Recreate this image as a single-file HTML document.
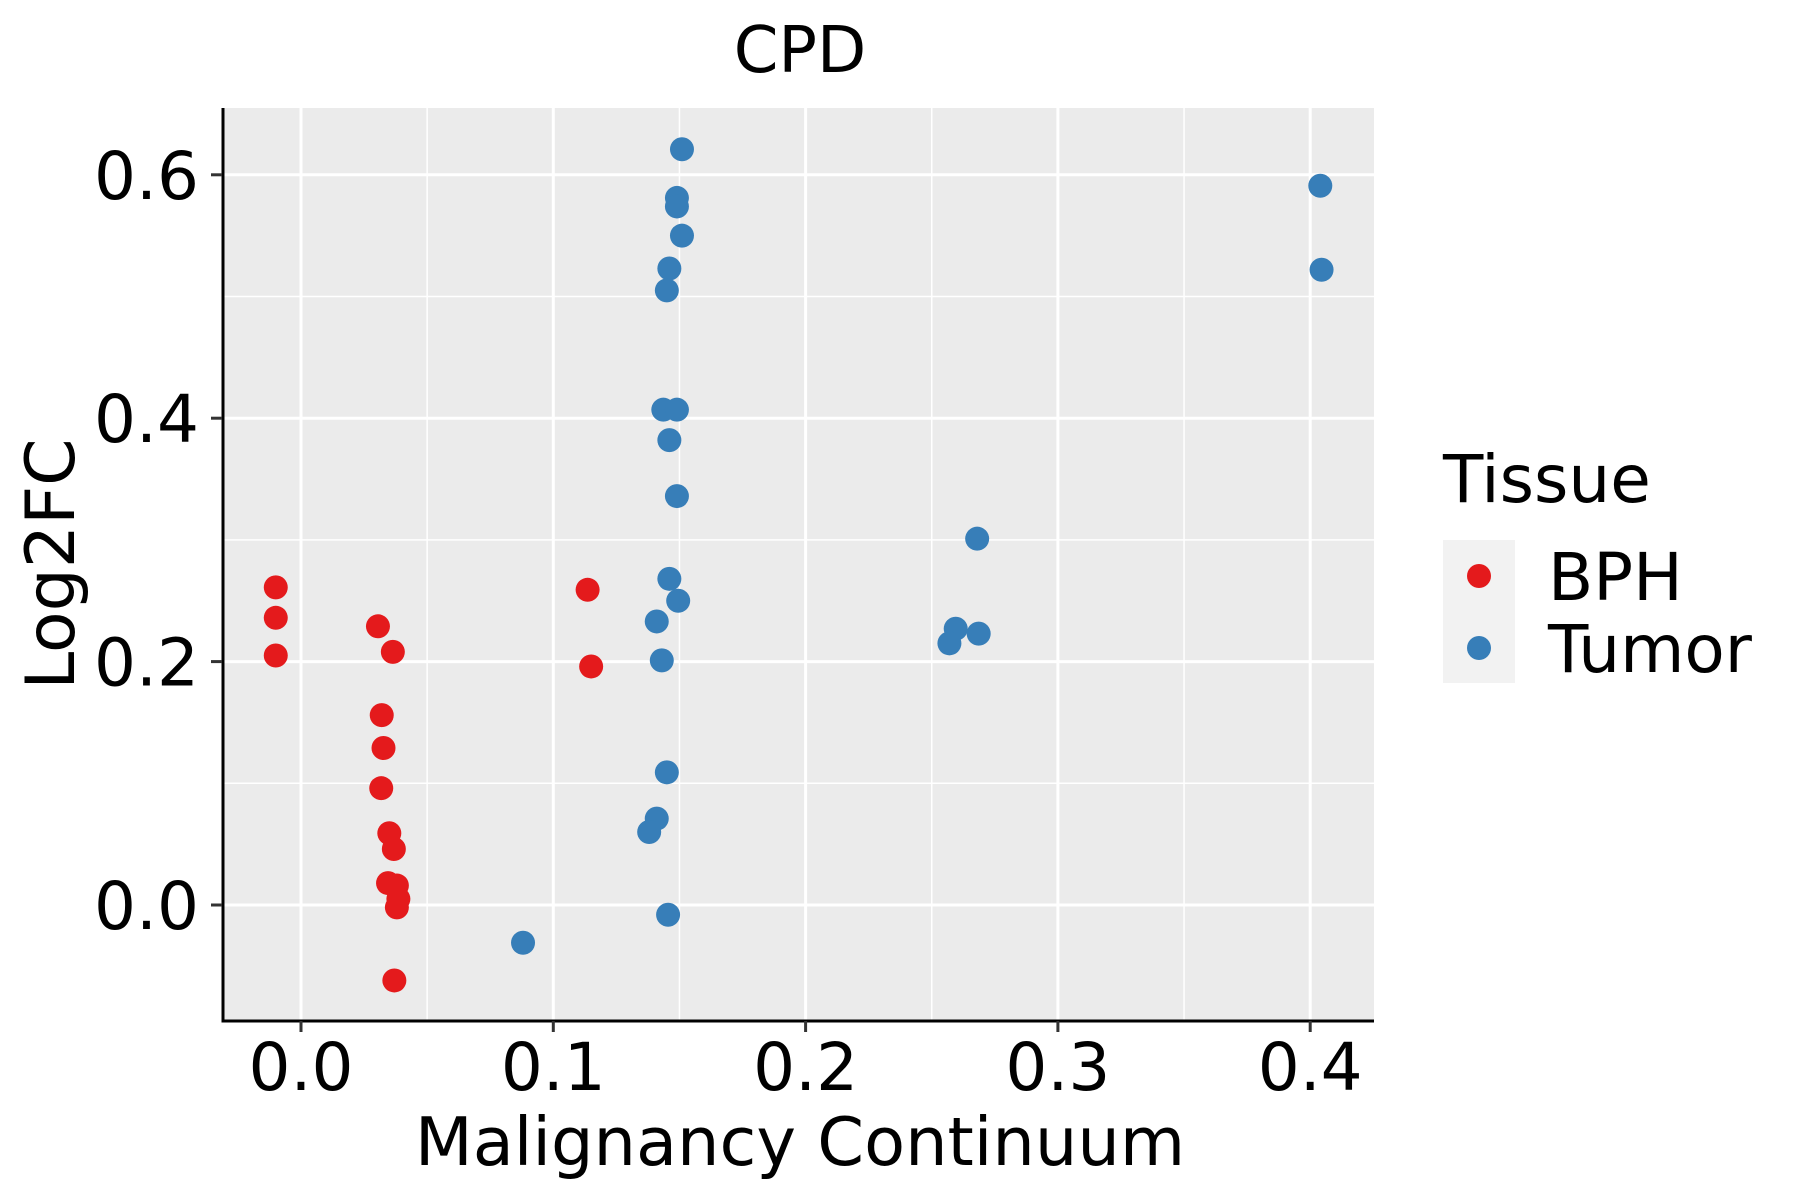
<!DOCTYPE html>
<html><head><meta charset="utf-8"><style>
html,body{margin:0;padding:0;background:#fff;}
svg{display:block;font-family:"DejaVu Sans","Liberation Sans",sans-serif;}
</style></head><body>
<svg id="chart" width="1800" height="1200" viewBox="0 0 1800 1200">
<rect x="224" y="108" width="1150" height="913" fill="#EBEBEB"/>
<g id="grid"></g>
<g id="points"></g>
<g id="axes"></g>
<text x="800" y="72" font-size="64" text-anchor="middle">CPD</text>
<text x="800" y="1165" font-size="67" text-anchor="middle">Malignancy Continuum</text>
<text transform="translate(74,564) rotate(-90)" font-size="68" text-anchor="middle">Log2FC</text>
<g>
<text x="1443" y="502" font-size="66">Tissue</text>
<rect x="1443" y="540" width="72" height="143" fill="#F2F2F2"/>
<circle cx="1479" cy="576" r="12" fill="#E41A1C"/>
<circle cx="1479" cy="648" r="12" fill="#377EB8"/>
<text x="1548" y="600" font-size="66">BPH</text>
<text x="1548" y="672" font-size="66">Tumor</text>
</g>
</svg>
<script>
const xTicks = [0.0, 0.1, 0.2, 0.3, 0.4];
const xTickLabels = ["0.0", "0.1", "0.2", "0.3", "0.4"];
const yTicks = [0.0, 0.2, 0.4, 0.6];
const yTickLabels = ["0.0", "0.2", "0.4", "0.6"];
const xMinor = [0.05, 0.15, 0.25, 0.35];
const yMinor = [-0.1, 0.1, 0.3, 0.5];
const bphX = [-0.010,-0.010,-0.010,0.0305,0.0364,0.032,0.0327,0.0318,0.035,0.0368,0.0345,0.038,0.0386,0.038,0.037,0.1136,0.115];
const bphY = [0.261,0.236,0.205,0.229,0.208,0.156,0.129,0.096,0.059,0.046,0.018,0.016,0.005,-0.002,-0.062,0.259,0.196];
const tumorX = [0.151,0.149,0.149,0.151,0.146,0.145,0.1436,0.149,0.146,0.149,0.146,0.1495,0.141,0.143,0.145,0.141,0.138,0.1455,0.088,0.404,0.4045,0.268,0.2595,0.257,0.2686];
const tumorY = [0.621,0.581,0.574,0.550,0.523,0.505,0.407,0.407,0.382,0.336,0.268,0.250,0.233,0.201,0.109,0.071,0.060,-0.008,-0.031,0.591,0.522,0.301,0.227,0.215,0.223];

const NS = "http://www.w3.org/2000/svg";
const PL = 224, PR = 1374, PT = 108, PB = 1021;
function sx(v){ return 301 + v * 2523; }
function sy(v){ return 905 - v * 1217; }
function mk(tag, attrs, parent){
  const e = document.createElementNS(NS, tag);
  for (const k in attrs) e.setAttribute(k, attrs[k]);
  parent.appendChild(e);
  return e;
}
const grid = document.getElementById('grid');
xMinor.forEach(v => {
  const l = mk('line', {x1:sx(v), x2:sx(v), y1:PT, y2:PB, stroke:'#fff', 'stroke-width':1.5}, grid);
  
  
});
yMinor.forEach(v => {
  if (sy(v) < PT || sy(v) > PB) return;
  const l = mk('line', {x1:PL, x2:PR, y1:sy(v), y2:sy(v), stroke:'#fff', 'stroke-width':1.5}, grid);
  
  
});
xTicks.forEach(v => {
  const l = mk('line', {x1:sx(v), x2:sx(v), y1:PT, y2:PB, stroke:'#fff', 'stroke-width':3}, grid);
  
  
});
yTicks.forEach(v => {
  const l = mk('line', {x1:PL, x2:PR, y1:sy(v), y2:sy(v), stroke:'#fff', 'stroke-width':3}, grid);
  
  
});
const pts = document.getElementById('points');
bphX.forEach((v, i) => {
  const c = mk('circle', {cx:sx(v), cy:sy(bphY[i]), r:12, fill:'#E41A1C'}, pts);
  
  
});
tumorX.forEach((v, i) => {
  const c = mk('circle', {cx:sx(v), cy:sy(tumorY[i]), r:12, fill:'#377EB8'}, pts);
  
  
});
const axes = document.getElementById('axes');
const yl = mk('line', {x1:PL-1, x2:PL-1, y1:PT, y2:PB+1.5, stroke:'#000', 'stroke-width':3}, axes);


const xl = mk('line', {x1:PL-2.5, x2:PR, y1:PB, y2:PB, stroke:'#000', 'stroke-width':3}, axes);


xTicks.forEach((v, i) => {
  const t = mk('line', {x1:sx(v), x2:sx(v), y1:PB, y2:PB+11, stroke:'#333', 'stroke-width':3}, axes);
  
  
  const tx = mk('text', {x:sx(v), y:1090, 'font-size':66, 'text-anchor':'middle', fill:'#000'}, axes);
  tx.textContent = xTickLabels[i];
  
  
});
yTicks.forEach((v, i) => {
  const t = mk('line', {x1:PL-13, x2:PL-2, y1:sy(v), y2:sy(v), stroke:'#333', 'stroke-width':3}, axes);
  
  
  const tx = mk('text', {x:199, y:sy(v)+24, 'font-size':66, 'text-anchor':'end', fill:'#000'}, axes);
  tx.textContent = yTickLabels[i];
  
  
});
</script>
</body></html>
